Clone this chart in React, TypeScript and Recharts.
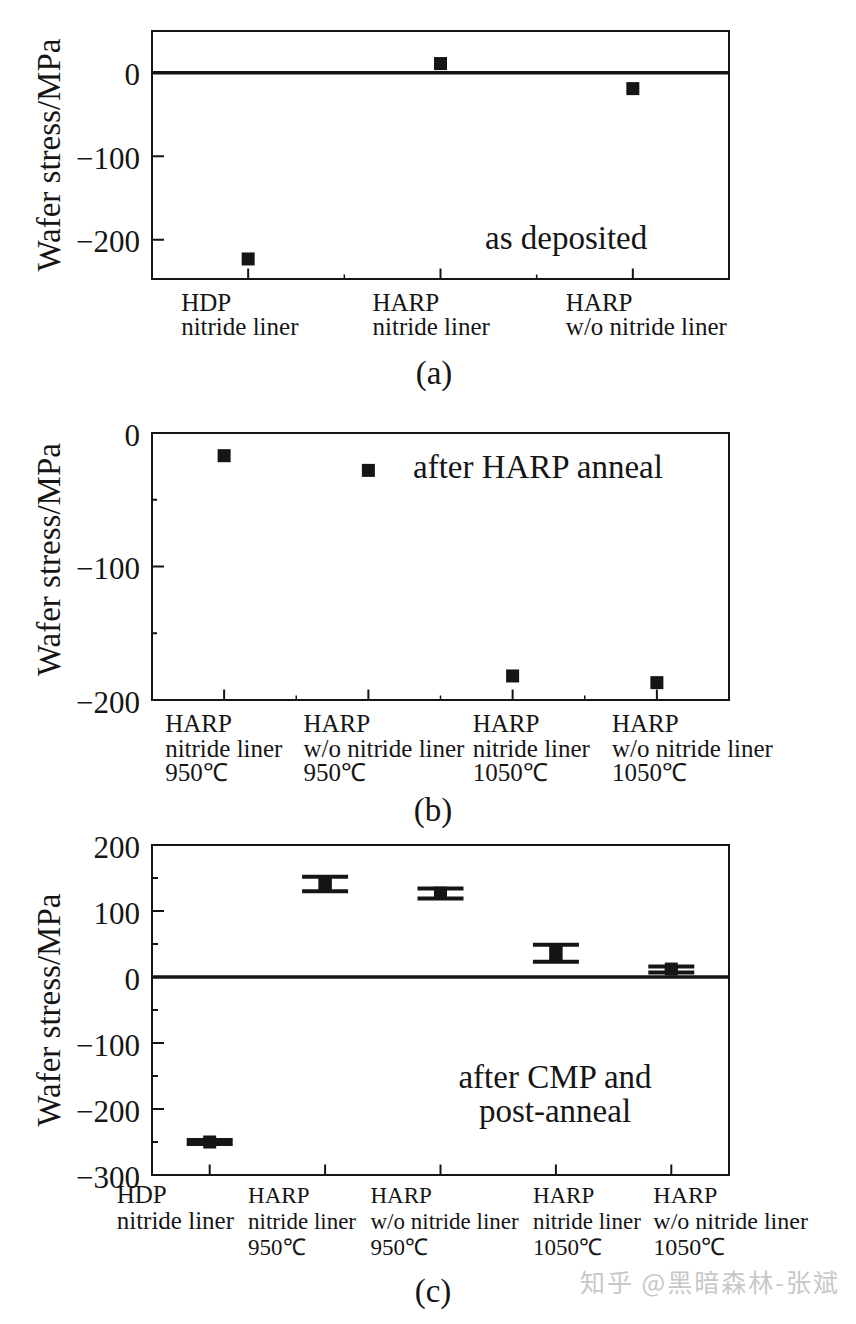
import { ScatterChart, Scatter, XAxis, YAxis, ReferenceLine, ReferenceArea, ErrorBar } from 'recharts'

const INK = '#151515'
const SERIF = '"Liberation Serif", "Times New Roman", serif'

// (a) as deposited
const A_LABELS = [
  ['HDP', 'nitride liner'],
  ['HARP', 'nitride liner'],
  ['HARP', 'w/o nitride liner'],
]
const A_STRESS = [-223, 11, -19]
const A_YTICKS = [0, -100, -200]

// (b) after HARP anneal
const B_LABELS = [
  ['HARP', 'nitride liner', '950℃'],
  ['HARP', 'w/o nitride liner', '950℃'],
  ['HARP', 'nitride liner', '1050℃'],
  ['HARP', 'w/o nitride liner', '1050℃'],
]
const B_STRESS = [-17, -28, -182, -187]
const B_YTICKS = [0, -100, -200]
const B_YMINOR = [-50, -150]

// (c) after CMP and post-anneal
const C_LABELS = [
  ['HDP', 'nitride liner'],
  ['HARP', 'nitride liner', '950℃'],
  ['HARP', 'w/o nitride liner', '950℃'],
  ['HARP', 'nitride liner', '1050℃'],
  ['HARP', 'w/o nitride liner', '1050℃'],
]
const C_MEAN = [-250, 141, 127, 36, 12]
const C_LOW = [-253, 130, 119, 23, 7]
const C_HIGH = [-247, 152, 134, 49, 16]
const C_YTICKS = [200, 100, 0, -100, -200, -300]
const C_YMINOR = [150, 50, -50, -150, -250]

// label start offsets from each tick and label font sizes (layout only)
const A_DX = [-67, -68, -67]
const B_DX = [-59, -65, -40, -45]
const C_DX = [-93, -77, -70, -23, -18]
const A_FS = [25, 25, 25]
const B_FS = [25, 25, 25, 25]
const C_FS = [25, 23, 23, 23, 24]

function fmt(v: number) {
  return v < 0 ? '\u2212' + Math.abs(v) : String(v)
}

function Square(p: any) {
  return <rect x={p.cx - 6.5} y={p.cy - 6.5} width={13} height={13} fill={INK} />
}

function XTick(p: any) {
  const { x, y, payload, labels, dx, fs, first, gap, minorLen } = p
  const v = payload.value
  if (!Number.isInteger(v)) {
    return <line x1={x} x2={x} y1={y} y2={y - minorLen} stroke={INK} strokeWidth={1.5} />
  }
  const lines: string[] = labels[v - 1]
  const tx = x + dx[v - 1]
  return (
    <g>
      <line x1={x} x2={x} y1={y} y2={y - 10.5} stroke={INK} strokeWidth={2} />
      {lines.map((l, i) => (
        <text key={i} x={tx} y={y + first + i * gap} fontFamily={SERIF} fontSize={fs[v - 1]} fill={INK}>
          {l}
        </text>
      ))}
    </g>
  )
}

function YTick(p: any) {
  const { x, y, payload, major, minorLen } = p
  const v = payload.value
  const isMajor = major.includes(v)
  return (
    <g>
      <line x1={x} x2={x + (isMajor ? 12 : minorLen)} y1={y} y2={y} stroke={INK} strokeWidth={2} />
      {isMajor && (
        <text x={x - 12} y={y} dy={2} textAnchor="end" dominantBaseline="central" fontFamily={SERIF} fontSize={31} fill={INK}>
          {fmt(v)}
        </text>
      )}
    </g>
  )
}

interface PanelProps {
  top: number
  height: number
  plotTop: number
  plotBottom: number
  labels: string[][]
  data: { x: number; y: number; err?: number[] }[]
  domain: [number, number]
  yMajor: number[]
  yMinor: number[]
  yMinorLen: number
  xMinor: boolean
  dx: number[]
  fs: number[]
  first: number
  gap: number
  zero: boolean
  titleShift?: number
  errors?: boolean
}

function Panel(props: PanelProps) {
  const { top, height, plotTop, plotBottom, labels, data, domain, yMajor, yMinor, yMinorLen, xMinor, dx, fs, first, gap, zero, errors } = props
  const n = labels.length
  const xTicks: number[] = []
  for (let i = 1; i <= n; i++) {
    xTicks.push(i)
    if (xMinor && i < n) xTicks.push(i + 0.5)
  }
  const labelY = (plotTop + plotBottom) / 2 - top + (props.titleShift ?? 0)
  return (
    <div style={{ position: 'absolute', left: 0, top }}>
      <ScatterChart
        width={856}
        height={height}
        margin={{ top: plotTop - top, right: 127, bottom: top + height - plotBottom - 30, left: 92 }}
      >
        <XAxis
          type="number"
          dataKey="x"
          domain={[0.5, n + 0.5]}
          ticks={xTicks}
          interval={0}
          height={30}
          tickSize={0}
          tickMargin={0}
          axisLine={false}
          tickLine={false}
          allowDataOverflow
          tick={(tp: any) => <XTick {...tp} labels={labels} dx={dx} fs={fs} first={first} gap={gap} minorLen={4.5} />}
        />
        <YAxis
          type="number"
          dataKey="y"
          domain={domain}
          ticks={[...yMajor, ...yMinor]}
          interval={0}
          width={60}
          tickSize={0}
          tickMargin={0}
          axisLine={false}
          tickLine={false}
          allowDataOverflow
          tick={(tp: any) => <YTick {...tp} major={yMajor} minorLen={yMinorLen} />}
          label={() => (
            <text
              transform={`translate(60, ${labelY}) rotate(-90)`}
              textAnchor="middle"
              fontFamily={SERIF}
              fontSize={33}
              fill={INK}
            >
              Wafer stress/MPa
            </text>
          )}
        />
        <ReferenceArea
          x1={0.5}
          x2={n + 0.5}
          y1={domain[0]}
          y2={domain[1]}
          fill="none"
          fillOpacity={0}
          stroke={INK}
          strokeWidth={2}
          ifOverflow="visible"
        />
        {zero && <ReferenceLine y={0} stroke={INK} strokeWidth={3.5} />}
        <Scatter data={data} isAnimationActive={false} shape={Square}>
          {errors && <ErrorBar dataKey="err" direction="y" width={0} strokeWidth={13} stroke={INK} />}
          {errors && <ErrorBar dataKey="err" direction="y" width={23} strokeWidth={4} stroke={INK} />}
        </Scatter>
      </ScatterChart>
    </div>
  )
}

const aData = A_STRESS.map((y, i) => ({ x: i + 1, y }))
const bData = B_STRESS.map((y, i) => ({ x: i + 1, y }))
const cData = C_MEAN.map((y, i) => ({ x: i + 1, y, err: [y - C_LOW[i], C_HIGH[i] - y] }))

export default function App() {
  return (
    <div style={{ position: 'relative', width: 856, height: 1324, margin: -8, background: '#fff', overflow: 'hidden' }}>
      <Panel
        top={0}
        height={400}
        plotTop={31}
        plotBottom={279}
        labels={A_LABELS}
        data={aData}
        domain={[-247, 50]}
        yMajor={A_YTICKS}
        yMinor={[]}
        yMinorLen={5}
        xMinor
        dx={A_DX}
        fs={A_FS}
        first={32}
        gap={24}
        zero
      />
      <Panel
        top={400}
        height={430}
        plotTop={433}
        plotBottom={700}
        labels={B_LABELS}
        data={bData}
        domain={[-200, 0]}
        yMajor={B_YTICKS}
        yMinor={B_YMINOR}
        yMinorLen={5}
        xMinor
        dx={B_DX}
        fs={B_FS}
        first={32}
        gap={24.5}
        zero={false}
        titleShift={-7}
      />
      <Panel
        top={830}
        height={494}
        plotTop={845}
        plotBottom={1175}
        labels={C_LABELS}
        data={cData}
        domain={[-300, 200]}
        yMajor={C_YTICKS}
        yMinor={C_YMINOR}
        yMinorLen={6}
        xMinor={false}
        dx={C_DX}
        fs={C_FS}
        first={28}
        gap={26}
        zero
        errors
      />
      <svg width={856} height={1324} style={{ position: 'absolute', left: 0, top: 0, pointerEvents: 'none' }}>
        <g fontFamily={SERIF} fill={INK}>
          <text x={485} y={249} fontSize={33}>as deposited</text>
          <text x={413} y={478} fontSize={33}>after HARP anneal</text>
          <text x={555} y={1088} fontSize={33} textAnchor="middle">after CMP and</text>
          <text x={555} y={1122} fontSize={33} textAnchor="middle">post-anneal</text>
          <text x={434} y={384} fontSize={33} textAnchor="middle">(a)</text>
          <text x={433} y={821} fontSize={33} textAnchor="middle">(b)</text>
          <text x={433} y={1302} fontSize={33} textAnchor="middle">(c)</text>
        </g>
        <text x={580} y={1292} fontSize={25} letterSpacing={2} fill="#c8c8c8" fontFamily='"Noto Sans CJK SC", sans-serif'>
          知乎 @黑暗森林-张斌
        </text>
      </svg>
    </div>
  )
}
